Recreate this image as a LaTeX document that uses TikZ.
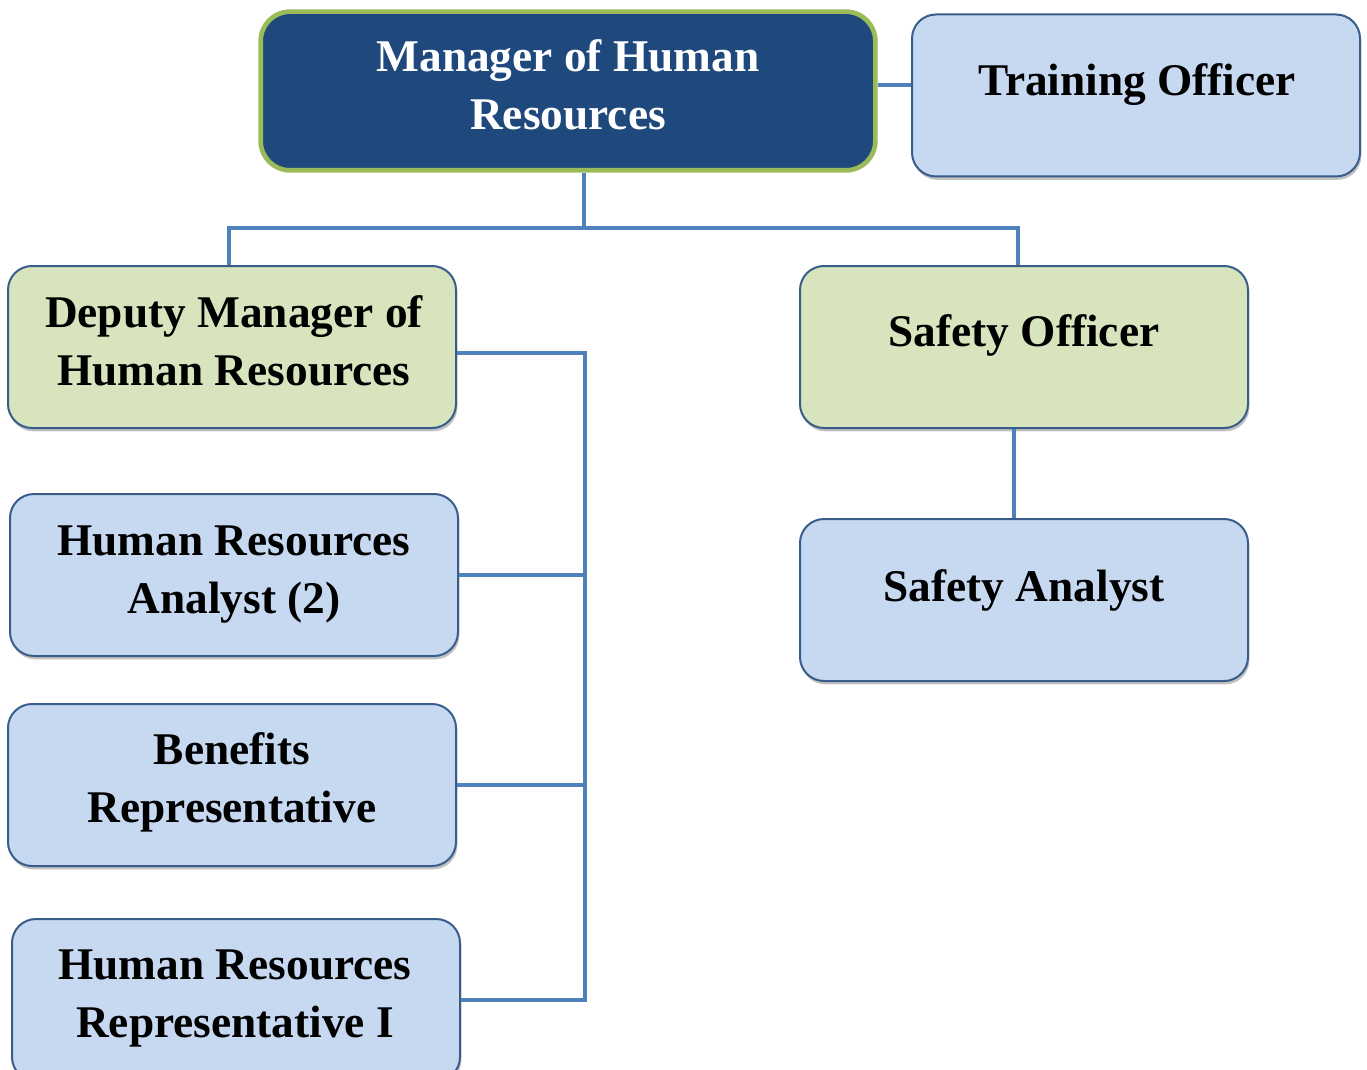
\documentclass[tikz,border=0pt]{standalone}
\usepackage{fontspec}
\setmainfont{Liberation Serif}
\usetikzlibrary{shadows}
\definecolor{navy}{HTML}{1F497D}
\definecolor{mgrgreen}{HTML}{9BBB59}
\definecolor{lblue}{HTML}{C6D9F1}
\definecolor{lgreen}{HTML}{D7E4BD}
\definecolor{boxedge}{HTML}{385D8A}
\definecolor{conn}{HTML}{4F81BD}
\tikzset{
  orgbox/.style={draw=boxedge, line width=1.5pt, rounded corners=18pt,
    minimum width=336pt, minimum height=121.5pt, inner sep=0pt,
    drop shadow={shadow xshift=1pt, shadow yshift=-2.5pt, opacity=0.35, fill=black!70}},
  bluebox/.style={orgbox, fill=lblue},
  greenbox/.style={orgbox, fill=lgreen},
  mgrbox/.style={draw=mgrgreen, fill=navy, line width=3.5pt, rounded corners=22pt,
    minimum width=461pt, minimum height=119pt, inner sep=0pt},
  lbl/.style={font=\fontsize{34}{43.5}\selectfont\bfseries, align=center, anchor=base, inner sep=0pt},
  link/.style={draw=conn, line width=3pt}
}
\begin{document}
\begin{tikzpicture}[x=0.75pt, y=-0.75pt]
\useasboundingbox (0,0) rectangle (1367,1070);
% boxes
\node[mgrbox]   (mgr)  at (568,91) {};
\node[bluebox]  (train) at (1136,95.5) {};
\node[greenbox] (dep)  at (232,347) {};
\node[greenbox] (safe) at (1024,347) {};
\node[bluebox]  (hra)  at (234,575) {};
\node[bluebox]  (sana) at (1024,600) {};
\node[bluebox]  (ben)  at (232,785) {};
\node[bluebox]  (hrr)  at (236,1000) {};
% labels (base anchor = baseline of last line)
\node[lbl, text=white] (mgr-t) at (568,130) {Manager of Human\\Resources};
\node[lbl] (train-t) at (1137,96) {Training Officer};
\node[lbl] (dep-t) at (234,385) {Deputy Manager of\\Human Resources};
\node[lbl] (safe-t) at (1024,346) {Safety Officer};
\node[lbl] (hra-t) at (234,613) {Human Resources\\Analyst (2)};
\node[lbl] (sana-t) at (1024,601) {Safety Analyst};
\node[lbl] (ben-t) at (232,822) {Benefits\\Representative};
\node[lbl] (hrr-t) at (235,1037) {Human Resources\\Representative I};
% connectors
\coordinate (bus) at (584,228);
\coordinate (vb) at (585,0);
\draw[link] ([yshift=4.5pt]mgr.east) -- ([yshift=4.5pt]mgr.east -| train.west);
\draw[link] (mgr.south -| bus) -- (bus);
\draw[link] ([xshift=-2.25pt]dep.north) |- (bus) -| ([xshift=-4.5pt]safe.north);
\draw[link] ([xshift=-7.5pt]safe.south) -- ([xshift=-7.5pt]sana.north);
\draw[link] ([yshift=-4.5pt]dep.east) -| (vb |- hrr.east) -- (hrr.east);
\draw[link] (hra.east) -- (hra.east -| vb);
\draw[link] (ben.east) -- (ben.east -| vb);
\end{tikzpicture}
\end{document}
